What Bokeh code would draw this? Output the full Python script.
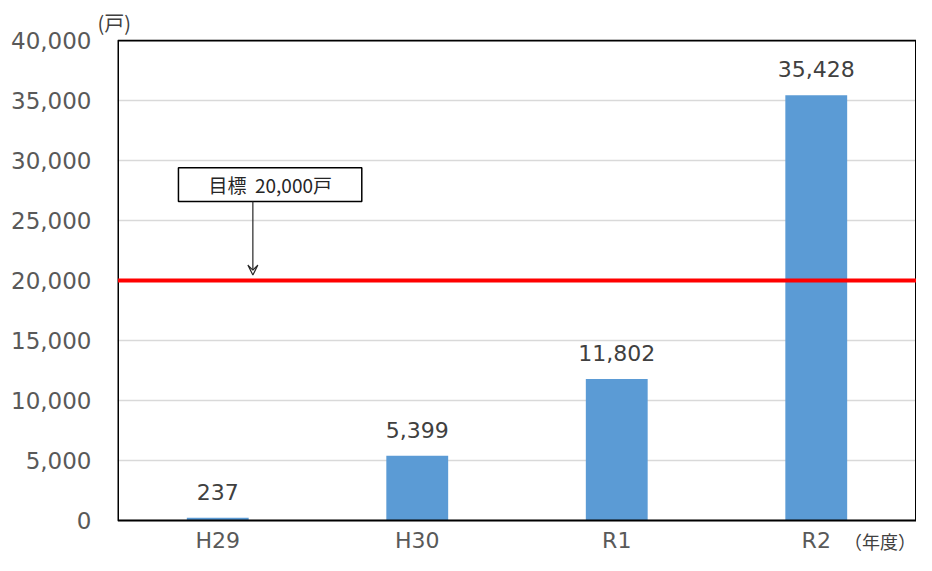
from bokeh.plotting import figure
from bokeh.models import Range1d, FactorRange, FixedTicker, NumeralTickFormatter, Label, Arrow, VeeHead, ColumnDataSource, Title
from bokeh.embed import file_html
from bokeh.resources import INLINE
from bokeh.core.properties import value

# data
years = ["H29", "H30", "R1", "R2"]
supply = [237, 5399, 11802, 35428]
supply_labels = ["237", "5,399", "11,802", "35,428"]
target = 20000
target_text = "目標\u00a0 20,000戸"
y_ticks = [0, 5000, 10000, 15000, 20000, 25000, 30000, 35000, 40000]
y_max = 40000
y_unit = "(戸)"
x_unit = "（年度）"

NUM_FONT = "DejaVu Sans"
JP_FONT = "Noto Sans CJK JP"

# layout (pixels -> data units)
PX = y_max / 480.0          # data units per pixel (plot area 480px high)
LABEL_Y = -20 * PX          # category label row, below the plot area
n = len(years)

p = figure(width=916, height=555,
           x_range=FactorRange(*years, range_padding=0.00125),
           y_range=Range1d(-35 * PX, y_max + 1 * PX),
           output_backend="svg", toolbar_location=None,
           min_border_left=117, min_border_top=39, min_border_bottom=0, min_border_right=0)
p.background_fill_color = "white"
p.border_fill_color = "white"
p.outline_line_color = None
p.xgrid.grid_line_color = None
p.ygrid.grid_line_color = "#d9d9d9"
p.ygrid.grid_line_width = 1.5
p.xaxis.visible = False

p.yaxis.ticker = FixedTicker(ticks=y_ticks)
p.yaxis.formatter = NumeralTickFormatter(format="0,0")
p.yaxis.axis_line_color = None
p.yaxis.major_tick_line_color = None
p.yaxis.minor_tick_line_color = None
p.yaxis.major_label_text_color = "#595959"
p.yaxis.major_label_text_font = NUM_FONT
p.yaxis.major_label_text_font_size = "23px"
p.yaxis.major_label_standoff = 20

p.add_layout(Title(text=y_unit, align="left", offset=-20, standoff=5, text_font=JP_FONT,
                   text_font_size="20px", text_font_style="normal", text_color="#404040"), "above")

src = ColumnDataSource(dict(x=years, top=supply, lab=supply_labels))
p.vbar(x="x", top="top", width=0.31, source=src, fill_color="#5b9bd5", line_color=None)
p.text(x="x", y="top", text="lab", source=src, text_align="center", text_baseline="middle",
       y_offset=-26, text_font=value(NUM_FONT), text_font_size="22px", text_color="#404040")

# category labels and unit
p.text(x="x", y=LABEL_Y, text="x", source=src, text_align="center", text_baseline="middle",
       text_font=value(NUM_FONT), text_font_size="22px", text_color="#595959")
p.add_layout(Label(x=n, y=LABEL_Y, text=x_unit, text_align="right", text_baseline="middle",
                   text_font=JP_FONT, text_font_size="18px", text_color="#404040"))

# plot-area border
p.quad(left=[0], right=[n], bottom=[0], top=[y_max], fill_color=None,
       line_color="black", line_width=2)

# target line
p.segment(x0=[0], x1=[n], y0=[target], y1=[target], line_color="#ff0000", line_width=4)

# annotation box
p.quad(left=[0.303], right=[1.222], bottom=[26580], top=[29400], fill_color="white",
       line_color="black", line_width=1.5)
p.add_layout(Label(x=0.763, y=27990, text=target_text, text_align="center", text_baseline="middle",
                   text_font=JP_FONT, text_font_size="19px", text_color="#262626"))
p.add_layout(Arrow(x_start=0.676, y_start=26580, x_end=0.676, y_end=20450, line_color="#262626",
                   line_width=1.2, end=VeeHead(size=10, line_color="#262626", line_width=1.2, fill_color=None)))

open("out.html", "w").write(file_html(p, INLINE))
